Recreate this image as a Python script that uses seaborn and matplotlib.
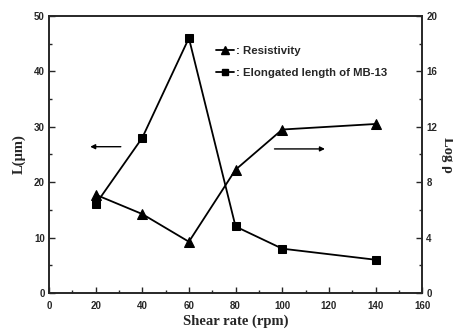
import matplotlib
matplotlib.use("Agg")
import matplotlib.pyplot as plt
import seaborn as sns
from matplotlib.lines import Line2D

# data
shear_rate = [20, 40, 60, 80, 100, 140]
length_um = [16, 28, 46, 12, 8, 6]          # left axis, L (um)
log_rho = [7.1, 5.7, 3.7, 8.9, 11.8, 12.2]  # right axis, Log rho

sns.set_style("ticks")
plt.rcParams['font.family'] = ['Liberation Sans', 'DejaVu Sans']

fig = plt.figure(figsize=(4.53, 3.32), dpi=100)
ax = fig.add_axes([0.108, 0.1175, 0.824, 0.8345])
ax2 = ax.twinx()

sns.lineplot(x=shear_rate, y=length_um, ax=ax, color='k', marker='s', markersize=6,
             markeredgecolor='k', linewidth=1.3)
sns.lineplot(x=shear_rate, y=log_rho, ax=ax2, color='k', marker='^', markersize=7,
             markeredgecolor='k', linewidth=1.3)

ax.set_xlim(0, 160)
ax.set_ylim(0, 50)
ax2.set_ylim(0, 20)
ax.set_xticks(range(0, 161, 20))
ax.set_xticks(range(10, 160, 20), minor=True)
ax.set_yticks(range(0, 51, 10))
ax.set_yticks(range(5, 50, 10), minor=True)
ax2.set_yticks(range(0, 21, 4))
ax2.set_yticks(range(2, 20, 4), minor=True)

for a in (ax, ax2):
    a.tick_params(direction='in', length=4, width=1, labelsize=7, pad=3)
    a.tick_params(which='minor', direction='in', length=2.5, width=1)
    for lbl in a.get_xticklabels() + a.get_yticklabels():
        lbl.set_fontweight('bold')
    for s in a.spines.values():
        s.set_linewidth(1.2)
        s.set_visible(True)
ax.tick_params(axis='x', pad=6)
ax.tick_params(top=False, right=False)
ax2.tick_params(left=False, top=False)

ax.set_xlabel("Shear rate (rpm)", family='Liberation Serif', fontweight='bold', fontsize=10.5, labelpad=2)
ax.set_ylabel("L(μm)", family='Liberation Serif', fontweight='bold', fontsize=10.5, labelpad=6)
ax2.set_ylabel("Log ρ", family='Liberation Serif', fontweight='bold', fontsize=10.5,
               rotation=270, labelpad=12)

handles = [Line2D([], [], color='k', marker='^', markersize=6, lw=1.3),
           Line2D([], [], color='k', marker='s', markersize=5, lw=1.3)]
ax.legend(handles, [": Resistivity", ": Elongated length of MB-13"], loc='upper left',
          bbox_to_anchor=(0.42, 0.93), frameon=False, handlelength=1.6, handletextpad=0.2,
          labelspacing=1.1, prop={'weight': 'bold', 'size': 8.2})

ax.annotate("", xy=(16.5, 26.4), xytext=(32, 26.4),
            arrowprops=dict(arrowstyle='-|>', color='k', lw=1, mutation_scale=7))
ax.annotate("", xy=(119.5, 26.0), xytext=(95.5, 26.0),
            arrowprops=dict(arrowstyle='-|>', color='k', lw=1, mutation_scale=7))

fig.savefig("out.png", dpi=100)
